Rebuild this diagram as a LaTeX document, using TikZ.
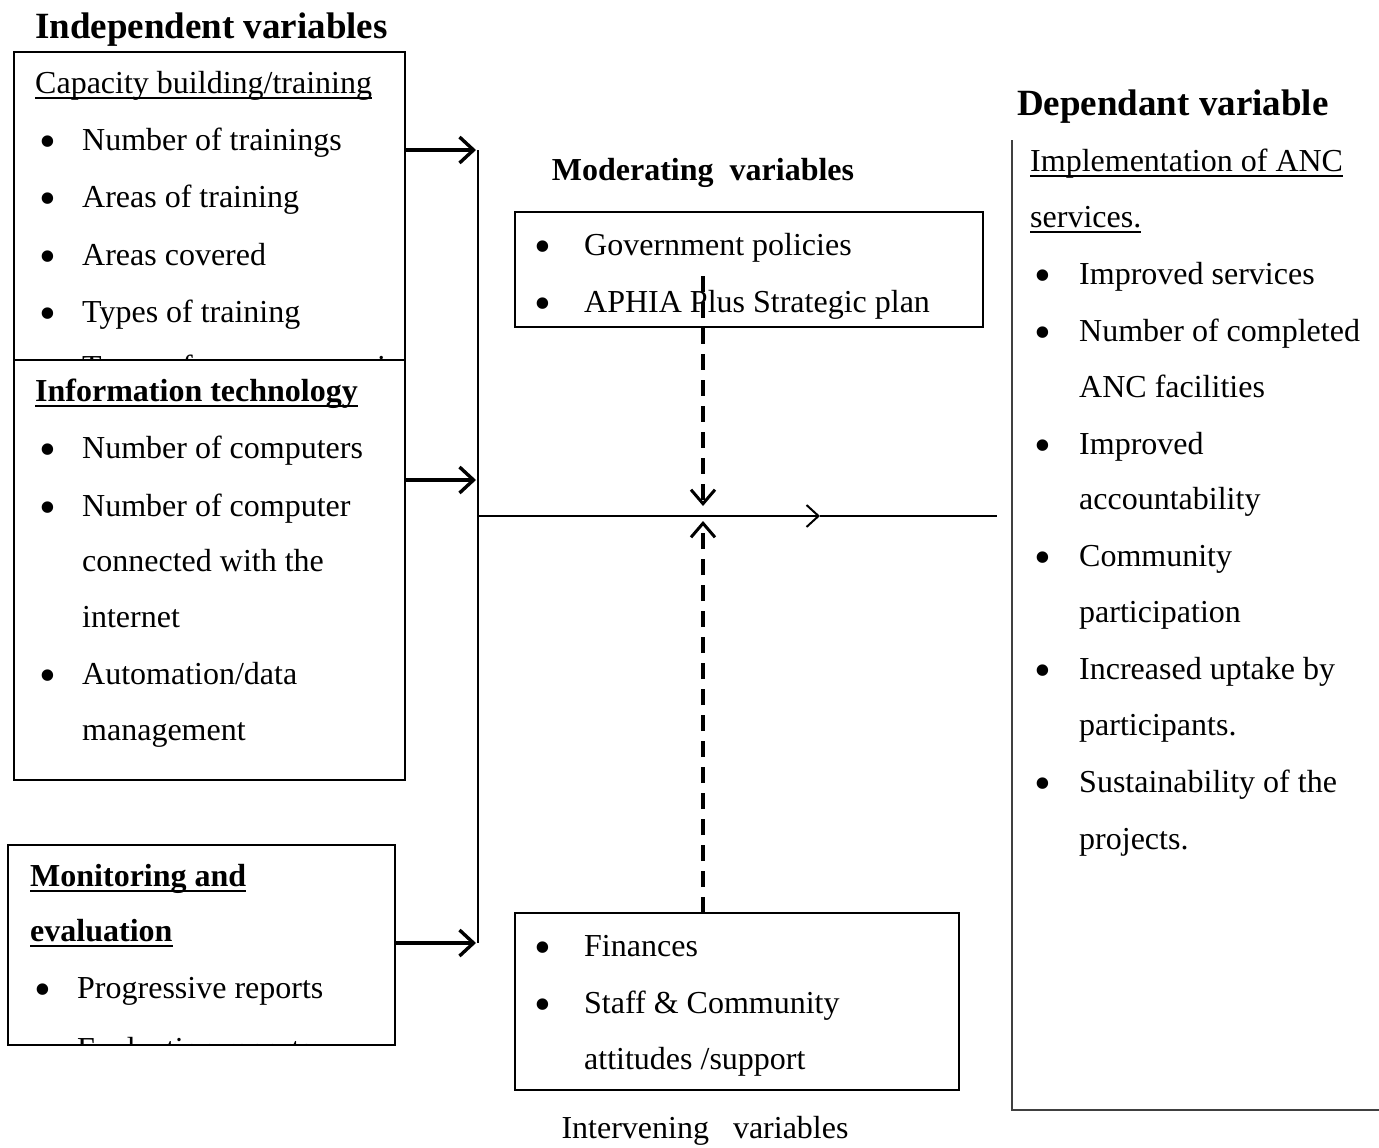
\documentclass[tikz,border=0pt]{standalone}
\usepackage{fontspec}
\setmainfont{Liberation Serif}
\usetikzlibrary{arrows.meta}
\begin{document}
\begin{tikzpicture}[x=1pt,y=-1pt,
  box/.style={draw, line width=1.3pt, rectangle, inner sep=0, outer sep=0, anchor=north west},
  txt/.style={anchor=base west, inner sep=0, yshift=-2pt, font=\fontsize{32}{38}\selectfont},
  bul/.style={anchor=base west, inner sep=0, yshift=-9pt, font=\fontsize{48}{48}\selectfont},
  btxt/.style={txt, font=\fontsize{32}{38}\selectfont\bfseries},
  head/.style={anchor=base west, inner sep=0, font=\fontsize{37}{44}\selectfont\bfseries},
  ul/.style={line width=1.8pt},
  thickarrow/.style={line width=3.2pt, -{Straight Barb[length=14pt,width=26pt,line width=3.4pt]}},
  dasharrow/.style={line width=3.2pt, dash pattern=on 16pt off 10pt, -{Straight Barb[length=14pt,width=24pt,line width=3pt]}},
  thinarrow/.style={line width=2pt, -{Straight Barb[length=12pt,width=22pt,line width=2pt]}}
]
\useasboundingbox (0,0) rectangle (1379,1148);

% headings
\node[head] (hind) at (35,39) {Independent variables};
\node[head] (hdep) at (1017,115) {Dependant variable};
\node[btxt, anchor=base] (hmod) at (703,178) {Moderating\ \ variables};
\node[txt, anchor=base] (hint) at (705,1136) {Intervening\ \ \ variables};

% capacity building box
\node[box, minimum width=391pt, minimum height=398pt] (cap) at (14,52) {};
\begin{scope}
\clip (cap.north west) rectangle (cap.south east);
\node[txt] (c0) at (35,91) {Capacity building/training};
\draw[ul] ([yshift=-5pt]c0.base west) -- ([yshift=-5pt]c0.base east);
\foreach \y/\t [count=\i] in {148/{Number of trainings}, 205/{Areas of training}, 263/{Areas covered}, 320/{Types of training}, 375/{Types of courses organized}}{
  \node[bul] (cb\i) at (39,\y) {•};
  \node[txt] (ct\i) at (82,\y) {\t};
}
\end{scope}

% information technology box
\node[box, fill=white, minimum width=391pt, minimum height=420pt] (it) at (14,360) {};
\node[btxt] (i0) at (35,399) {Information technology};
\draw[ul, line width=2.4pt] ([yshift=-5pt]i0.base west) -- ([yshift=-5pt]i0.base east);
\foreach \y [count=\i] in {456, 514, 682}{
  \node[bul] (ib\i) at (39,\y) {•};
}
\foreach \y/\t [count=\i] in {456/{Number of computers}, 514/{Number of computer}, 569/{connected with the}, 625/{internet}, 682/{Automation/data}, 738/{management}}{
  \node[txt] (itx\i) at (82,\y) {\t};
}

% monitoring and evaluation box
\node[box, minimum width=387pt, minimum height=200pt] (me) at (8,845) {};
\begin{scope}
\clip (me.north west) rectangle (me.south east);
\node[btxt] (m0) at (30,884) {Monitoring and};
\draw[ul, line width=2.4pt] ([yshift=-5pt]m0.base west) -- ([yshift=-5pt]m0.base east);
\node[btxt] (m1) at (30,939) {evaluation};
\draw[ul, line width=2.4pt] ([yshift=-5pt]m1.base west) -- ([yshift=-5pt]m1.base east);
\node[bul] (mb1) at (34,996) {•};
\node[txt] (mt1) at (77,996) {Progressive reports};
\node[bul] (mb2) at (34,1057) {•};
\node[txt] (mt2) at (77,1057) {Evaluation reports};
\end{scope}

% moderating box
\node[box, minimum width=468pt, minimum height=115pt] (mod) at (515,212) {};
\node[bul] (modb1) at (534,253) {•};
\node[txt] (modt1) at (584,253) {Government policies};
\node[bul] (modb2) at (534,310) {•};
\node[txt] (modt2) at (584,310) {APHIA Plus Strategic plan};

% intervening box
\node[box, minimum width=444pt, minimum height=177pt] (int) at (515,913) {};
\node[bul] (intb1) at (534,954) {•};
\node[txt] (intt1) at (584,954) {Finances};
\node[bul] (intb2) at (534,1011) {•};
\node[txt] (intt2) at (584,1011) {Staff \& Community};
\node[txt] (intt3) at (584,1067) {attitudes /support};

% dependent box (open)
\coordinate (dtop) at (1012,140);
\coordinate (dbl) at (1012,1110);
\coordinate (dbr) at (1379,1110);
\draw[line width=1.8pt, black!75] (dtop) -- (dbl) -- (dbr);
\node[txt] (d0) at (1030,169) {Implementation of ANC};
\draw[ul] ([yshift=-5pt]d0.base west) -- ([yshift=-5pt]d0.base east);
\node[txt] (d1) at (1030,225) {services.};
\draw[ul] ([yshift=-5pt]d1.base west) -- ([yshift=-5pt]d1.base east);
\foreach \y [count=\i] in {282,339,452,564,677,790}{
  \node[bul] (db\i) at (1034,\y) {•};
}
\foreach \y/\t [count=\i] in {282/{Improved services}, 339/{Number of completed}, 395/{ANC facilities}, 452/{Improved}, 507/{accountability}, 564/{Community}, 620/{participation}, 677/{Increased uptake by}, 733/{participants.}, 790/{Sustainability of the}, 847/{projects.}}{
  \node[txt] (dt\i) at (1079,\y) {\t};
}

% bus and connectors
\coordinate (bus1) at (478,150);
\coordinate (bus2) at (478,480);
\coordinate (bus3) at (478,943);
\coordinate (busm) at (478,516);
\coordinate (mid) at (820,516);
\coordinate (lineend) at (997,516);
\coordinate (junc) at (703,516);
\draw[line width=2pt] (bus1) -- (bus3);
\draw[thickarrow] (cap.east |- bus1) -- ([xshift=-2pt]bus1);
\draw[thickarrow] (it.east |- bus2) -- ([xshift=-2pt]bus2);
\draw[thickarrow] (me.east |- bus3) -- ([xshift=-2pt]bus3);
\draw[thinarrow] (busm) -- (mid);
\draw[line width=2pt] (mid) -- (lineend);

% dashed moderating / intervening arrows
\coordinate (dsm) at (703,276);
\draw[dasharrow] (dsm) -- ([yshift=10pt]junc);
\draw[dasharrow] (int.north -| junc) -- ([yshift=-5pt]junc);
\end{tikzpicture}
\end{document}
